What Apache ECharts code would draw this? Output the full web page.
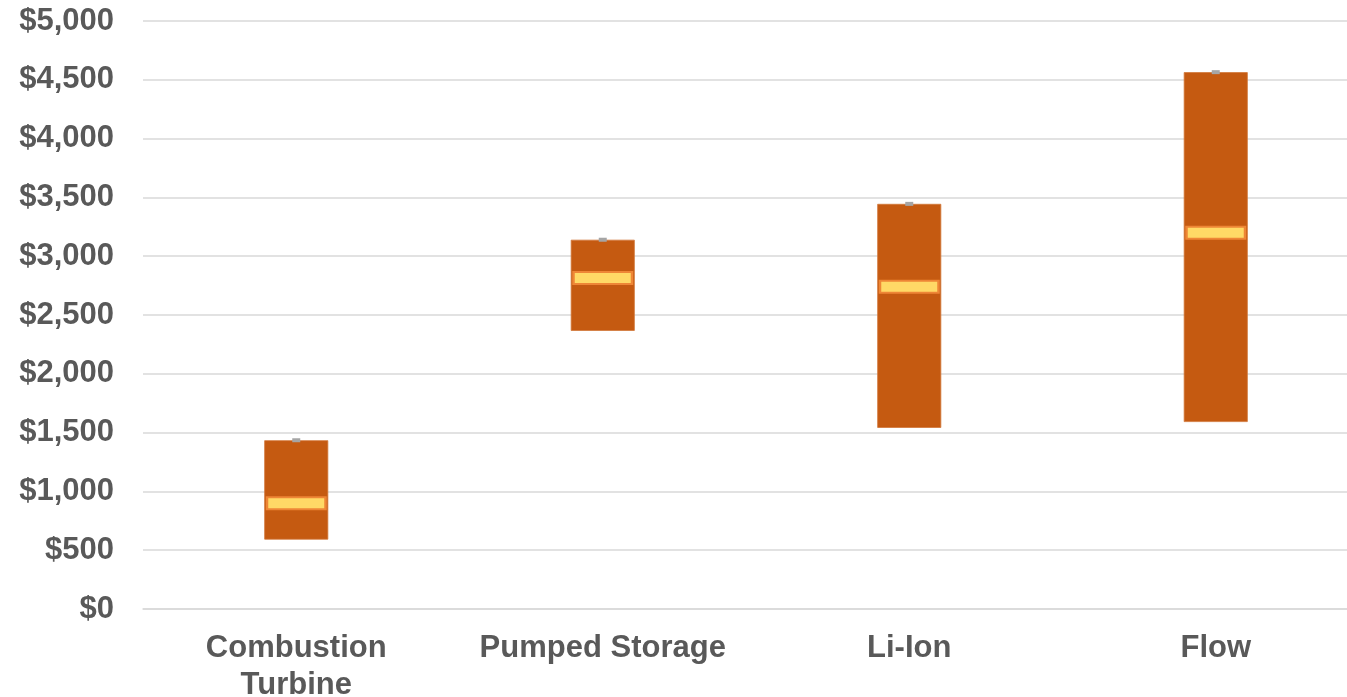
<!DOCTYPE html>
<html>
<head>
<meta charset="utf-8">
<script src="https://cdn.jsdelivr.net/npm/echarts@6/dist/echarts.min.js"></script>
<style>html,body{margin:0;padding:0;background:#fff}#c{width:1347px;height:697px}</style>
</head>
<body>
<div id="c"></div>
<script>
const categories = ['Combustion\nTurbine', 'Pumped Storage', 'Li-Ion', 'Flow'];
const lowValues = [590, 2365, 1540, 1590];
const highValues = [1435, 3140, 3445, 4565];
const medianValues = [900, 2815, 2740, 3200];
const yTicks = [0, 500, 1000, 1500, 2000, 2500, 3000, 3500, 4000, 4500, 5000];

const rangeValues = highValues.map((h, i) => h - lowValues[i]);
const chart = echarts.init(document.getElementById('c'));
const fontFamily = '"Liberation Sans", Arial, sans-serif';
chart.setOption({
  animation: false,
  grid: { left: 143, top: 21, width: 1226, height: 588, containLabel: false, outerBoundsMode: 'none' },
  xAxis: {
    type: 'category',
    data: categories,
    axisLine: { show: true, lineStyle: { color: '#D9D9D9', width: 1.5 } },
    axisTick: { show: false },
    axisLabel: { color: '#595959', fontSize: 31, fontWeight: 'bold', fontFamily: fontFamily, margin: 21, lineHeight: 37, interval: 0 }
  },
  yAxis: {
    type: 'value',
    min: yTicks[0],
    max: yTicks[yTicks.length - 1],
    interval: 500,
    axisLine: { show: false },
    axisTick: { show: false },
    splitLine: { lineStyle: { color: '#D9D9D9', width: 1.5 } },
    axisLabel: {
      color: '#595959', fontSize: 31, fontWeight: 'bold', fontFamily: fontFamily, margin: 29,
      formatter: v => '$' + v.toLocaleString('en-US')
    }
  },
  series: [
    { type: 'bar', stack: 'r', data: lowValues, barWidth: 64, itemStyle: { color: 'transparent' }, silent: true },
    { type: 'bar', stack: 'r', data: rangeValues, barWidth: 64, itemStyle: { color: '#C55A11', borderColor: '#D2773A', borderWidth: 0.8 } },
    { type: 'scatter', data: medianValues, symbol: 'rect', symbolSize: [61, 14], z: 5,
      itemStyle: { color: '#EE8636', opacity: 1 } },
    { type: 'scatter', data: medianValues, symbol: 'rect', symbolSize: [56, 10], z: 6,
      itemStyle: { color: '#FFD966', opacity: 1 } },
    { type: 'scatter', data: highValues, symbol: 'rect', symbolSize: [8, 4], z: 7,
      itemStyle: { color: '#A5A5A5', opacity: 1 } }
  ]
});
</script>
</body>
</html>
